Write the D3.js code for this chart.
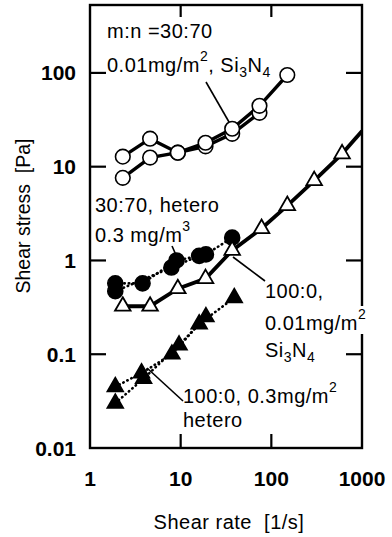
<!DOCTYPE html>
<html>
<head>
<meta charset="utf-8">
<script src="https://cdn.jsdelivr.net/npm/d3@7"></script>
<style>
  html, body { margin: 0; padding: 0; background: #fff; }
  svg { display: block; font-family: "Liberation Sans", Arial, sans-serif; }
</style>
</head>
<body>
<div id="chart"></div>
<script>
// shear stress vs shear rate, log-log
var xTicks = [1, 10, 100, 1000];
var yTicks = [0.01, 0.1, 1, 10, 100];
var yTickLabels = ["0.01", "0.1", "1", "10", "100"];

// 30:70, 0.01 mg/m2, Si3N4 (open circles, two sweeps)
var rateOpenCircUp = [2.3, 4.6, 9.3, 18.8, 37, 74, 150];
var stressOpenCircUp = [12.8, 19.9, 14.1, 18, 25.4, 44.6, 95];
var rateOpenCircDn = [2.3, 4.6, 9.3, 18.8, 37, 74];
var stressOpenCircDn = [7.6, 12.5, 14.1, 16.5, 22.4, 37.5];

// 30:70, hetero, 0.3 mg/m3 (filled circles)
var rateFillCircUp = [1.9, 3.8, 9.0, 19, 37];
var stressFillCircUp = [0.57, 0.57, 1.0, 1.16, 1.75];
var rateFillCircDn = [1.9, 7.9, 16];
var stressFillCircDn = [0.47, 0.84, 1.12];

// 100:0, 0.01 mg/m2, Si3N4 (open triangles)
var rateOpenTri = [2.3, 4.6, 9.3, 18.8, 37, 78, 150, 297, 603];
var stressOpenTri = [0.325, 0.325, 0.50, 0.64, 1.28, 2.19, 3.85, 7.1, 13.7];
var rateOpenTriTail = [603, 1000];
var stressOpenTriTail = [13.7, 24];

// 100:0, 0.3 mg/m2, hetero (filled triangles)
var rateFillTriUp = [1.9, 3.7, 8, 16, 39];
var stressFillTriUp = [0.045, 0.063, 0.10, 0.21, 0.40];
var rateFillTriDn = [1.9, 3.9, 9.6, 19];
var stressFillTriDn = [0.030, 0.055, 0.125, 0.25];

function pts(xs, ys) { return xs.map(function (x, i) { return [x, ys[i]]; }); }

var W = 392, H = 537;
var m = { left: 90, right: 362, top: 5, bottom: 448 };

var svg = d3.select("#chart").append("svg").attr("width", W).attr("height", H);

var x = d3.scaleLog().domain([1, 1000]).range([m.left, m.right]);
var y = d3.scaleLog().domain([0.01, 530]).range([m.bottom, m.top]);

svg.append("clipPath").attr("id", "plot")
  .append("rect").attr("x", m.left).attr("y", m.top)
  .attr("width", m.right - m.left).attr("height", m.bottom - m.top);

var line = d3.line().x(function (d) { return x(d[0]); }).y(function (d) { return y(d[1]); });

var plot = svg.append("g").attr("clip-path", "url(#plot)");

function drawLine(data, width, dash) {
  plot.append("path").datum(data).attr("d", line)
    .attr("fill", "none").attr("stroke", "#000").attr("stroke-width", width)
    .attr("stroke-dasharray", dash || null).attr("stroke-linecap", dash ? "round" : "butt");
}

drawLine(pts(rateOpenCircUp, stressOpenCircUp), 3.4);
drawLine(pts(rateOpenCircDn, stressOpenCircDn), 3.4);
drawLine(pts(rateFillCircUp, stressFillCircUp), 2.6, "0.5,4");
drawLine(pts(rateFillCircDn, stressFillCircDn), 2.6, "0.5,4");
drawLine(pts(rateOpenTri, stressOpenTri), 3.8);
drawLine(pts(rateOpenTriTail, stressOpenTriTail), 3.8);
drawLine(pts(rateFillTriUp, stressFillTriUp), 2.6, "0.5,4");
drawLine(pts(rateFillTriDn, stressFillTriDn), 2.6, "0.5,4");

function drawCircles(data, fill, r) {
  plot.append("g").selectAll("circle").data(data).join("circle")
    .attr("cx", function (d) { return x(d[0]); }).attr("cy", function (d) { return y(d[1]); })
    .attr("r", r).attr("fill", fill).attr("stroke", "#000").attr("stroke-width", 1.6);
}
var tri = d3.symbol().type(d3.symbolTriangle).size(105);
function drawTriangles(data, fill) {
  plot.append("g").selectAll("path").data(data).join("path")
    .attr("d", tri)
    .attr("transform", function (d) { return "translate(" + x(d[0]) + "," + y(d[1]) + ")"; })
    .attr("fill", fill).attr("stroke", "#000").attr("stroke-width", 1.8)
    .attr("stroke-linejoin", "miter");
}

drawCircles(pts(rateOpenCircDn, stressOpenCircDn), "#fff", 7.3);
drawCircles(pts(rateOpenCircUp, stressOpenCircUp), "#fff", 7.3);
drawCircles(pts(rateFillCircDn, stressFillCircDn), "#000", 7.5);
drawCircles(pts(rateFillCircUp, stressFillCircUp), "#000", 7.5);
drawTriangles(pts(rateOpenTri, stressOpenTri), "#fff");
drawTriangles(pts(rateFillTriUp, stressFillTriUp), "#000");
drawTriangles(pts(rateFillTriDn, stressFillTriDn), "#000");

// frame
svg.append("rect").attr("x", m.left).attr("y", m.top)
  .attr("width", m.right - m.left).attr("height", m.bottom - m.top)
  .attr("fill", "none").attr("stroke", "#000").attr("stroke-width", 2.4);

// inner ticks
var ticks = svg.append("g").attr("stroke", "#000").attr("stroke-width", 2.2);
yTicks.slice(1).forEach(function (v) {
  ticks.append("line").attr("x1", m.left).attr("x2", m.left + 16).attr("y1", y(v)).attr("y2", y(v));
  ticks.append("line").attr("x1", m.right).attr("x2", m.right - 16).attr("y1", y(v)).attr("y2", y(v));
});
xTicks.slice(1, 3).forEach(function (v) {
  ticks.append("line").attr("x1", x(v)).attr("x2", x(v)).attr("y1", m.top).attr("y2", m.top + 12);
  ticks.append("line").attr("x1", x(v)).attr("x2", x(v)).attr("y1", m.bottom).attr("y2", m.bottom - 14);
});

// tick labels
svg.append("g").selectAll("text").data(yTicks).join("text")
  .attr("x", 76).attr("y", function (d) { return y(d); }).attr("dy", "0.36em")
  .attr("text-anchor", "end").attr("font-size", 21).attr("font-weight", "bold")
  .text(function (d, i) { return yTickLabels[i]; });
svg.append("g").selectAll("text").data(xTicks).join("text")
  .attr("x", function (d) { return x(d); }).attr("y", 478).attr("dy", "0.36em")
  .attr("text-anchor", "middle").attr("font-size", 21).attr("font-weight", "bold")
  .text(function (d) { return d; });

svg.append("text").attr("x", 229).attr("y", 522).attr("dy", "0.36em")
  .attr("text-anchor", "middle").attr("font-size", 20).attr("letter-spacing", 0.5)
  .attr("xml:space", "preserve")
  .text("Shear rate  [1/s]");
svg.append("text").attr("transform", "translate(23,216) rotate(-90)").attr("dy", "0.36em")
  .attr("text-anchor", "middle").attr("font-size", 19.5).attr("xml:space", "preserve")
  .text("Shear stress  [Pa]");

// annotations
var ann = svg.append("g").attr("font-size", 20).attr("letter-spacing", 0.5);
function label(x0, y0, parts, backing) {
  var g = ann.append("g");
  var t = g.append("text").attr("x", x0).attr("y", y0).attr("xml:space", "preserve");
  parts.forEach(function (p) {
    var s = t.append("tspan").text(p[0]);
    if (p[1] === "sup") s.attr("font-size", 14).attr("dy", -11);
    if (p[1] === "sub") s.attr("font-size", 14).attr("dy", 5);
    if (p[1] === "reset") s.attr("dy", p[2]);
  });
  if (backing) {
    var b = t.node().getBBox();
    g.insert("rect", "text").attr("x", b.x - 2).attr("y", b.y).attr("width", b.width + 4)
      .attr("height", b.height).attr("fill", "#fff");
  }
}
label(107, 38, [["m:n =30:70"]]);
label(107, 72, [["0.01mg/m"], ["2", "sup"], [", Si", "reset", 11], ["3", "sub"], ["N", "reset", -5], ["4", "sub"]]);
label(95, 212, [["30:70, hetero"]]);
label(95, 242, [["0.3 mg/m"], ["3", "sup"]]);
label(265, 298, [["100:0,"]], true);
label(265, 330, [["0.01mg/m"], ["2", "sup"]], true);
label(265, 357, [["Si"], ["3", "sub"], ["N", "reset", -5], ["4", "sub"]], true);
label(183, 403, [["100:0, 0.3mg/m"], ["2", "sup"]]);
label(183, 427, [["hetero"]]);

// leader lines
var leaders = svg.append("g").attr("stroke", "#000").attr("stroke-width", 1.6);
[[206, 82, 229, 122], [233, 257, 265, 281], [147, 368, 183, 401], [172, 246, 176, 255]]
  .forEach(function (l) {
    leaders.append("line").attr("x1", l[0]).attr("y1", l[1]).attr("x2", l[2]).attr("y2", l[3]);
  });
</script>
</body>
</html>
